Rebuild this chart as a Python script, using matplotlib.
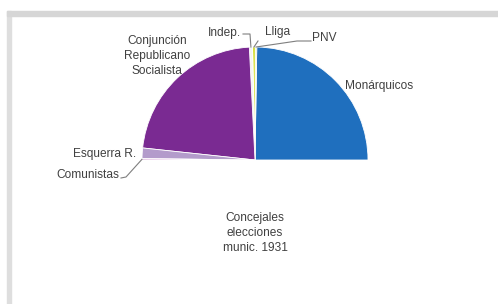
import numpy as np
import matplotlib
matplotlib.use('Agg')
import matplotlib.pyplot as plt
from matplotlib.patches import Rectangle

''' Data: concejales, municipal elections 1931 (share of seats, %) '''
parties = ['Monárquicos', 'PNV', 'Lliga', 'Indep.',
           'Conjunción\nRepublicano\nSocialista', 'Esquerra R.', 'Comunistas']
seats = [49.5, 0.4, 0.8, 0.9, 45.0, 3.0, 0.4]
colors = ['#1f6fbe', '#a9c9a4', '#d4df3c', '#f4f4f4', '#7a2a92', '#b39bcb', '#d8a8d8']
title = 'Concejales\nelecciones\nmunic. 1931'

# label placement (pixel coords, y measured from top) and leader-line elbows
label_pos = {
    'Monárquicos': (345, 86, 'left'),
    'PNV': (312, 38, 'left'),
    'Lliga': (265, 32, 'left'),
    'Indep.': (241, 33, 'right'),
    'Conjunción\nRepublicano\nSocialista': (157, 56, 'center'),
    'Esquerra R.': (136, 154, 'right'),
    'Comunistas': (119, 175, 'right'),
}
leaders = {
    'PNV': [(311, 41), (297, 41)],
    'Lliga': [(258, 41)],
    'Indep.': [(243, 34), (250, 34)],
    'Comunistas': [(121, 178), (126, 177)],
}

W, H = 498, 304
fig = plt.figure(figsize=(W / 100, H / 100), dpi=100)
fig.patch.set_facecolor('white')

# screenshot frame
fig.patches.append(Rectangle((7 / W, 0), 4 / W, 1 - 11 / H, transform=fig.transFigure,
                             color='#dedede', zorder=0))
fig.patches.append(Rectangle((7 / W, 1 - 16 / H), 1, 5 / H, transform=fig.transFigure,
                             color='#d6d6d6', zorder=0))

ax = fig.add_axes([0, 0, 1, 1])

cx, cy, r = 255, H - 160, 113
total = sum(seats)
wedges, _ = ax.pie(seats + [total], colors=colors + ['none'], startangle=0,
                   counterclock=True, center=(cx, cy), radius=r, frame=True,
                   wedgeprops=dict(linewidth=0.6, edgecolor='white'))
wedges[-1].set_visible(False)
ax.set_xlim(0, W)
ax.set_ylim(0, H)
ax.set_aspect('equal')
ax.axis('off')

txt_color = '#404040'
for w, name in zip(wedges[:-1], parties):
    lx, ly, ha = label_pos[name]
    ax.text(lx, H - ly, name, ha=ha, va='center', fontsize=8.6,
            color=txt_color, family='Liberation Sans', linespacing=1.3)
    if name in leaders:
        ang = np.deg2rad((w.theta1 + w.theta2) / 2)
        px, py = cx + r * np.cos(ang), cy + r * np.sin(ang)
        pts = leaders[name] + [(px, H - py)]
        xs = [p[0] for p in pts]
        ys = [H - p[1] for p in pts]
        ax.plot(xs, ys, color='#7f7f7f', lw=0.8)

ax.text(cx, H - 233, title, ha='center', va='center', fontsize=8.6,
        color=txt_color, family='Liberation Sans', linespacing=1.35)

fig.savefig('out.png', dpi=100)
